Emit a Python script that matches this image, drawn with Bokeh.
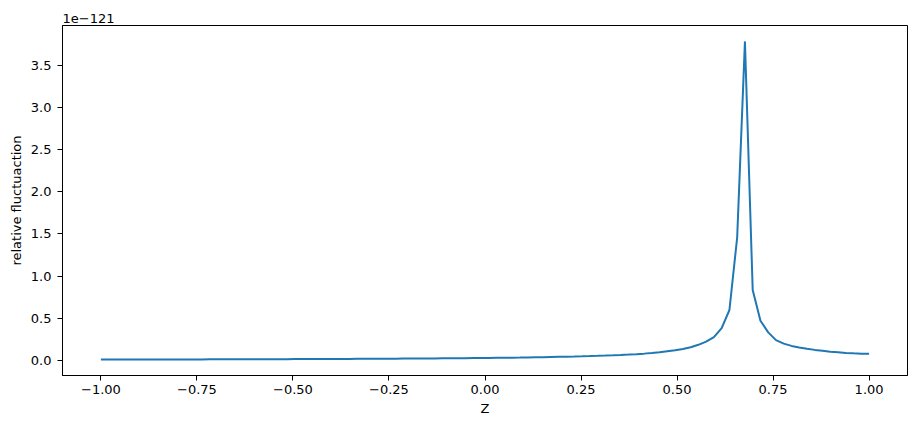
import numpy as np
from bokeh.plotting import figure
from bokeh.models import Range1d, FixedTicker, CustomJSTickFormatter
from bokeh.embed import file_html
from bokeh.resources import INLINE

# Z values: 100 evenly spaced samples from -1 to 1
z_start = -1.0
z_stop = 1.0
n_points = 100

# relative fluctuation, in units of 1e-121
fluct = [
    0.0131, 0.0133, 0.0134, 0.0136, 0.0138, 0.0140, 0.0141, 0.0143, 0.0145, 0.0147,
    0.0149, 0.0151, 0.0153, 0.0156, 0.0158, 0.0160, 0.0162, 0.0165, 0.0168, 0.0170,
    0.0173, 0.0176, 0.0178, 0.0182, 0.0185, 0.0188, 0.0191, 0.0194, 0.0198, 0.0202,
    0.0205, 0.0209, 0.0213, 0.0218, 0.0222, 0.0227, 0.0232, 0.0237, 0.0242, 0.0247,
    0.0253, 0.0259, 0.0265, 0.0272, 0.0279, 0.0286, 0.0294, 0.0302, 0.0311, 0.0320,
    0.0330, 0.0340, 0.0351, 0.0363, 0.0375, 0.0389, 0.0403, 0.0419, 0.0436, 0.0454,
    0.0473, 0.0494, 0.0519, 0.0545, 0.0573, 0.0604, 0.0640, 0.0681, 0.0726, 0.0777,
    0.0837, 0.0905, 0.0991, 0.1120, 0.1230, 0.1380, 0.1600, 0.1880, 0.2250, 0.2780,
    0.3860, 0.6000, 1.4600, 3.7800, 0.8360, 0.4730, 0.3350, 0.2440, 0.2020, 0.1750,
    0.1570, 0.1420, 0.1280, 0.1170, 0.1060, 0.0990, 0.0920, 0.0870, 0.0830, 0.0810,
]
offset_text = "1e\u2212121"

x_ticks = [-1.0, -0.75, -0.5, -0.25, 0.0, 0.25, 0.5, 0.75, 1.0]
y_ticks = [0.0, 0.5, 1.0, 1.5, 2.0, 2.5, 3.0, 3.5]

z = np.linspace(z_start, z_stop, n_points)
y = np.array(fluct)

xpad = 0.05 * (z.max() - z.min())
ypad = 0.05 * (y.max() - y.min())
xr = Range1d(z.min() - xpad, z.max() + xpad)
yr = Range1d(y.min() - ypad, y.max() + ypad)

FONT = "DejaVu Sans"
FS = "13px"

p = figure(width=912, height=424, output_backend="svg", toolbar_location=None,
           x_range=xr, y_range=yr,
           min_border_left=62, min_border_right=5, min_border_top=25, min_border_bottom=49)
p.frame_width = 845
p.frame_height = 350

p.line(z, y, line_color="#1f77b4", line_width=2)

p.xgrid.visible = False
p.ygrid.visible = False
p.outline_line_color = "black"
p.outline_line_alpha = 1.0
p.outline_line_width = 1

p.xaxis.ticker = FixedTicker(ticks=x_ticks)
p.yaxis.ticker = FixedTicker(ticks=y_ticks)
p.xaxis.formatter = CustomJSTickFormatter(code="return tick.toFixed(2).replace('-', '\u2212');")
p.yaxis.formatter = CustomJSTickFormatter(code="return tick.toFixed(1).replace('-', '\u2212');")

for ax in (p.xaxis, p.yaxis):
    ax.major_tick_out = 5
    ax.major_tick_in = 0
    ax.minor_tick_out = 0
    ax.minor_tick_in = 0
    ax.axis_line_color = "black"
    ax.major_tick_line_color = "black"
    ax.major_label_text_font = FONT
    ax.major_label_text_font_size = FS
    ax.major_label_text_color = "black"
    ax.axis_label_text_font = FONT
    ax.axis_label_text_font_size = FS
    ax.axis_label_text_font_style = "normal"
    ax.axis_label_text_color = "black"

p.xaxis.major_label_standoff = 4
p.yaxis.major_label_standoff = 6
p.xaxis.axis_label = "Z"
p.yaxis.axis_label = "relative fluctuaction"
p.xaxis.axis_label_standoff = 4
p.yaxis.axis_label_standoff = 4

p.title.text = offset_text
p.title.align = "left"
p.title.text_font = FONT
p.title.text_font_size = FS
p.title.text_font_style = "normal"
p.title.text_color = "black"
p.title.standoff = 5
p.title.offset = 0

open("out.html", "w").write(file_html(p, INLINE))
